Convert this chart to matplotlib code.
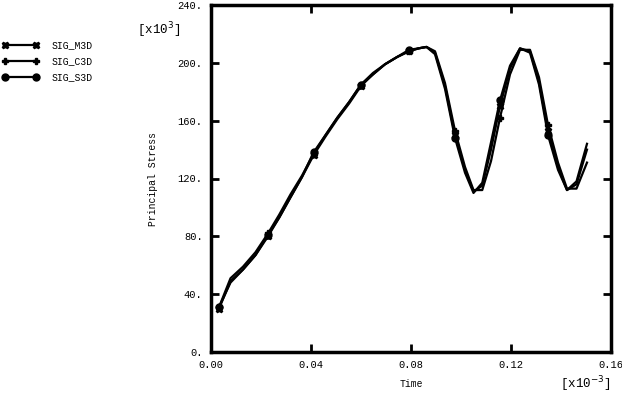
import matplotlib
matplotlib.use('Agg')
import matplotlib.pyplot as plt

plt.rcParams['font.family'] = ['Liberation Mono', 'DejaVu Sans Mono']

# Datos (tiempo en x10^-3, tension en x10^3)
time = [0.0032, 0.0078, 0.0128, 0.0178, 0.0228, 0.0273, 0.0318, 0.0364, 0.0410,
        0.0458, 0.0505, 0.0553, 0.0600, 0.0648, 0.0696, 0.0744, 0.0792, 0.0830,
        0.0862, 0.0896, 0.0936, 0.0976, 0.1016, 0.1050, 0.1085, 0.1120, 0.1156,
        0.1196, 0.1236, 0.1276, 0.1312, 0.1348, 0.1388, 0.1424, 0.1462, 0.1504]

sig_m3d = [30, 49, 57, 67, 80, 93, 107, 121, 136, 149, 161, 172, 184, 192, 199, 204,
           208, 210, 211, 207, 184, 150, 126, 111, 115, 140, 170, 196, 210, 208, 187,
           153, 128, 112, 116, 140]
sig_c3d = [31, 51, 59, 69, 82, 95, 109, 122, 137, 150, 162, 173, 185, 193, 199, 204,
           208, 210, 211, 208, 186, 153, 128, 112, 112, 132, 162, 192, 209, 209, 190,
           157, 131, 113, 113, 131]
sig_s3d = [31, 48, 57, 67, 81, 93, 107, 121, 138, 150, 162, 173, 185, 192, 199, 204,
           209, 210, 211, 206, 182, 148, 124, 110, 117, 145, 174, 198, 210, 207, 185,
           150, 126, 112, 118, 144]

marks = [0, 4, 8, 12, 16, 21, 26, 31]

fig = plt.figure(figsize=(6.22, 3.95), dpi=100)
ax = fig.add_axes([211 / 622, 43 / 395, 400 / 622, 347 / 395])

ax.plot(time, sig_m3d, color='black', lw=1.6, marker='X', ms=5, markevery=marks, label='SIG_M3D')
ax.plot(time, sig_c3d, color='black', lw=1.6, marker='P', ms=5, markevery=marks, label='SIG_C3D')
ax.plot(time, sig_s3d, color='black', lw=1.6, marker='o', ms=5, markevery=marks, label='SIG_S3D')

ax.set_xlim(0, 0.16)
ax.set_ylim(0, 240)
ax.set_xticks([0, 0.04, 0.08, 0.12, 0.16])
ax.set_xticklabels(['0.00', '0.04', '0.08', '0.12', '0.16'])
ax.set_yticks([0, 40, 80, 120, 160, 200, 240])
ax.set_yticklabels(['0.', '40.', '80.', '120.', '160.', '200.', '240.'])
ax.tick_params(direction='in', length=6, width=2, top=True, right=True, labelsize=7.5, pad=6)
for s in ax.spines.values():
    s.set_linewidth(2.5)

ax.set_xlabel('Time', fontsize=7, labelpad=6)
ax.set_ylabel('Principal Stress', fontsize=7, labelpad=14)
fig.text(137 / 622, 1 - 30 / 395, r'[x10$^{3}$]', fontsize=9, va='center')
fig.text(560 / 622, 1 - 384 / 395, r'[x10$^{-3}$]', fontsize=9, va='center')

fig.legend(loc='upper left', bbox_to_anchor=(0.0, 1 - 38 / 395), frameon=False,
           numpoints=2, handlelength=3.8, handletextpad=1.3, fontsize=7,
           labelspacing=0.65, borderaxespad=0, borderpad=0.2)

fig.savefig('out.png', dpi=100)
